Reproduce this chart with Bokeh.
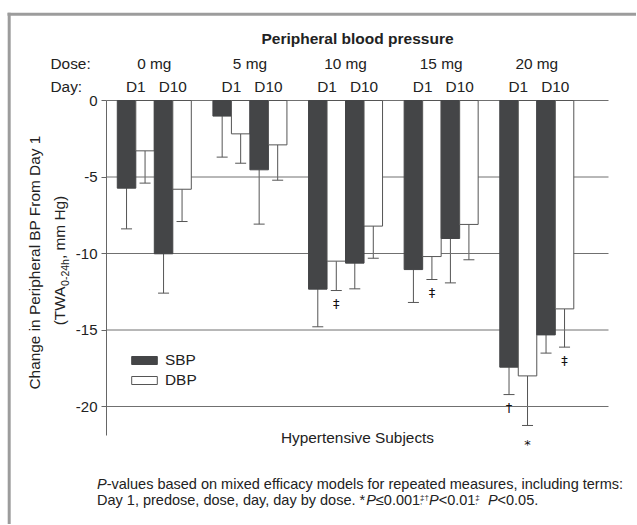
import math
from bokeh.plotting import figure
from bokeh.models import (ColumnDataSource, FixedTicker, LabelSet, Whisker,
                          TeeHead, Legend, LegendItem, LinearAxis)
from bokeh.core.properties import value
from bokeh.embed import file_html
from bokeh.resources import INLINE

# ---------------- data ----------------
doses = ["0 mg", "5 mg", "10 mg", "15 mg", "20 mg"]
days = ["D1", "D10"]
series_names = ["SBP", "DBP"]

sbp_d1 = [-5.73, -1.02, -12.33, -11.05, -17.43]
dbp_d1 = [-3.29, -2.18, -10.50, -10.20, -18.00]
sbp_d10 = [-10.02, -4.53, -10.63, -9.02, -15.32]
dbp_d10 = [-5.80, -2.90, -8.21, -8.10, -13.62]

sbp_d1_low = [-8.39, -3.70, -14.79, -13.20, -19.22]
dbp_d1_low = [-5.40, -4.10, -12.42, -11.70, -21.24]
sbp_d10_low = [-12.59, -8.08, -12.31, -11.92, -16.51]
dbp_d10_low = [-7.91, -5.21, -10.31, -10.41, -16.12]

sig_sbp_d1 = ["", "", "", "", "\u2020"]
sig_dbp_d1 = ["", "", "\u2021", "\u2021", "*"]
sig_sbp_d10 = ["", "", "", "", ""]
sig_dbp_d10 = ["", "", "", "", "\u2021"]

y_ticks = [0, -5, -10, -15, -20]
y_tick_labels = ["0", "-5", "-10", "-15", "-20"]

title_text = "Peripheral blood pressure"
x_label_text = "Hypertensive Subjects"
y_label_1 = "Change in Peripheral BP From Day 1"
dose_caption = "Dose:"
day_caption = "Day:"

# ---------------- layout ----------------
FONT = "Liberation Sans"
TC = "#222222"
DARK = "#444547"
EDGE = "#555555"
GRID = "#707070"
FRAME = "#9c9c9c"
MAIN = "15.4px"

W, H = 636, 524
PX0, XS = 153.8, 95.62      # pixel of group 0 centre, pixels per group
PY0, YS = 100.0, 15.3       # pixel of value 0, pixels per unit


def xd(px):
    return (px - PX0) / XS


def yd(py):
    return (PY0 - py) / YS


AW = {' ': 278, '!': 278, '(': 333, ')': 333, '*': 389, ',': 278, '-': 333, '.': 278,
      ':': 278, ';': 278, '<': 584, '\u2264': 549, '\u2020': 556, '\u2021': 556,
      'A': 667, 'B': 667, 'C': 722, 'D': 722, 'F': 611, 'H': 722, 'P': 667, 'S': 667,
      'T': 611, 'W': 944, 'G': 778,
      'a': 556, 'b': 556, 'c': 500, 'd': 556, 'e': 556, 'f': 278, 'g': 556, 'h': 556,
      'i': 222, 'j': 222, 'k': 500, 'l': 222, 'm': 833, 'n': 556, 'o': 556, 'p': 556,
      'q': 556, 'r': 333, 's': 500, 't': 278, 'u': 556, 'v': 500, 'w': 722, 'x': 500,
      'y': 500, 'z': 500}


def tw(s, size):
    return sum(AW.get(c, 556) for c in s) * size / 1000.0


p = figure(width=W, height=H, x_range=(xd(0), xd(W)), y_range=(yd(H), yd(0)),
           output_backend="svg", toolbar_location=None,
           x_axis_location=None, y_axis_location=None,
           min_border_left=0, min_border_right=0, min_border_top=0, min_border_bottom=0)
p.outline_line_color = None
p.background_fill_color = "white"
p.border_fill_color = "white"
p.xgrid.visible = False
p.ygrid.visible = False

yaxis = LinearAxis(fixed_location=xd(106), bounds=(yd(435), 0),
                   ticker=FixedTicker(ticks=y_ticks))
yaxis.major_label_overrides = {t: l for t, l in zip(y_ticks, y_tick_labels)}
yaxis.minor_tick_line_color = None
yaxis.major_tick_in = 0
yaxis.major_tick_out = 5
yaxis.major_label_standoff = 4
yaxis.axis_line_color = "#666666"
yaxis.major_tick_line_color = "#666666"
yaxis.major_label_text_font = FONT
yaxis.major_label_text_font_size = "15px"
yaxis.major_label_text_color = TC
p.add_layout(yaxis, "left")

# outer gray frame (top and left edges; right/bottom fall outside the picture)
p.segment(x0=[xd(7), xd(8.7)], y0=[yd(13.7), yd(12.2)],
          x1=[xd(900), xd(8.7)], y1=[yd(13.7), yd(900)],
          line_color=FRAME, line_width=3, line_cap="butt")

# horizontal grid lines at the y ticks, limited to the plot area
p.segment(x0=xd(106), x1=xd(608), y0=y_ticks, y1=y_ticks, line_color=GRID, line_width=1)

BW = 0.1935
series = [
    (sbp_d1, sbp_d1_low, sig_sbp_d1, DARK, DARK),
    (dbp_d1, dbp_d1_low, sig_dbp_d1, "white", EDGE),
    (sbp_d10, sbp_d10_low, sig_sbp_d10, DARK, DARK),
    (dbp_d10, dbp_d10_low, sig_dbp_d10, "white", EDGE),
]
dy_map = {"\u2021": -13, "\u2020": -13, "*": -19, "": 0}
renderers = []
for k, (vals, lows, sigs, fc, lc) in enumerate(series):
    off = (k - 1.5) * BW
    src = ColumnDataSource(dict(
        x=[i + off for i in range(len(doses))],
        val=vals, low=lows, sig=sigs,
        dy=[dy_map[s] for s in sigs],
    ))
    r = p.vbar(x="x", width=BW, top=0, bottom="val", source=src,
               fill_color=fc, line_color=lc, line_width=1)
    renderers.append(r)
    p.add_layout(Whisker(source=src, base="x", upper="val", lower="low", dimension="height",
                         line_color=EDGE, line_width=1, upper_head=None,
                         lower_head=TeeHead(size=11, line_color=EDGE, line_width=1)))
    p.add_layout(LabelSet(source=src, x="x", y="low", text="sig", y_offset="dy",
                          text_align="center", text_baseline="middle",
                          text_font=value("DejaVu Sans"), text_font_size="13px",
                          text_color="#111111"))

legend = Legend(items=[LegendItem(label=series_names[0], renderers=[renderers[0]]),
                       LegendItem(label=series_names[1], renderers=[renderers[1]])],
                location=(128, H - 350 - 40), glyph_width=32, glyph_height=10,
                label_height=20, label_standoff=5, spacing=0, padding=0, margin=0,
                border_line_color=None, background_fill_alpha=0,
                label_text_font=FONT, label_text_font_size=MAIN, label_text_color=TC)
p.add_layout(legend)


def lab(xs, ys, texts, size=MAIN, align="left", style="normal", angle=0.0):
    src = ColumnDataSource(dict(x=list(xs), y=list(ys), t=list(texts)))
    p.add_layout(LabelSet(source=src, x="x", y="y", text="t", angle=angle,
                          text_align=align, text_baseline="alphabetic",
                          text_font=value(FONT), text_font_size=size,
                          text_font_style=style, text_color=TC))


CX = xd(357)
# title
lab([CX], [yd(43.5)], [title_text], size="15.5px", align="center", style="bold")
# dose / day header
lab([xd(50)], [yd(68.3)], [dose_caption])
lab([xd(50)], [yd(91.7)], [day_caption])
lab(range(len(doses)), [yd(68.3)] * len(doses), doses, align="center")
dx, dt = [], []
for i in range(len(doses)):
    for j, d in enumerate(days):
        dx.append(i + (j * 2 - 1) * BW)
        dt.append(d)
lab(dx, [yd(91.7)] * len(dx), dt, align="center")

# x label
lab([CX], [yd(442.7)], [x_label_text], align="center")

# y label (rotated, two lines, with subscript)
A = math.pi / 2
lab([xd(39.5)], [yd(262)], [y_label_1], align="center", angle=A)
parts = [("(TWA", 15.4, 0.0), ("0-24h", 10.5, 3.5), (", mm Hg)", 15.4, 0.0)]
total = sum(tw(t, s) for t, s, _ in parts)
ycur = 260 + total / 2
for t, s, sh in parts:
    lab([xd(64.7 + sh)], [yd(ycur)], [t], size="%.1fpx" % s, angle=A)
    ycur -= tw(t, s)

# footnote
FS = 14.5
SS = 8.0


def line_pieces(x_start, base, pieces):
    xc = x_start
    for t, size, style, rise, adv in pieces:
        lab([xd(xc)], [yd(base - rise)], [t], size="%.1fpx" % size, style=style)
        if adv:
            xc += tw(t, size)


line_pieces(96.5, 488.3, [
    ("P", FS, "italic", 0, True),
    ("-values based on mixed efficacy models for repeated measures, including terms:", FS, "normal", 0, True),
])
line_pieces(96.5, 504, [
    ("Day 1, predose, dose, day, day by dose. *", FS, "normal", 0, True),
    ("P", FS, "italic", 0, True),
    ("\u22640.001", FS, "normal", 0, True),
    (";", SS, "normal", 1, False),
    ("\u2021\u2020", SS, "normal", 5, True),
    ("P", FS, "italic", 0, True),
    ("<0.01", FS, "normal", 0, True),
    (";", SS, "normal", 1, False),
    ("\u2021", SS, "normal", 5, True),
    ("  ", FS, "normal", 0, True),
    ("P", FS, "italic", 0, True),
    ("<0.05.", FS, "normal", 0, True),
])

open("out.html", "w").write(file_html(p, INLINE))
